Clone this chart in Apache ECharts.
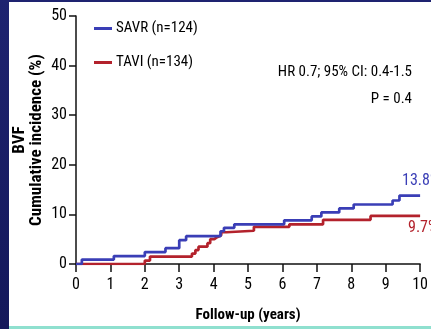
<!DOCTYPE html>
<html><head><meta charset="utf-8">
<script src="https://cdn.jsdelivr.net/npm/echarts@6/dist/echarts.min.js"></script>
<style>html,body{margin:0;padding:0;background:#fff}#c{width:431px;height:329px}</style>
</head><body><div id="c"></div>
<script>
const xTicks = [0,1,2,3,4,5,6,7,8,9,10];
const yTicks = [0,10,20,30,40,50];
const savrName = 'SAVR (n=124)';
const taviName = 'TAVI (n=134)';
const savrTimes  = [0, 0.17, 1.1, 2.0, 2.6, 3.0, 3.2, 4.2, 4.3, 4.6, 6.05, 6.85, 7.13, 7.65, 8.07, 9.2, 9.4, 10];
const savrValues = [0, 0.9, 1.6, 2.4, 3.2, 4.8, 5.6, 6.6, 7.3, 8.0, 8.8, 9.6, 10.4, 11.2, 12.0, 12.8, 13.8, 13.8];
const taviTimes  = [0, 2.0, 2.15, 3.37, 3.47, 3.56, 3.82, 3.9, 4.02, 4.1, 4.22, 4.37, 5.17, 6.2, 7.18, 8.56, 10];
const taviValues = [0, 0.7, 1.5, 2.1, 2.8, 3.5, 4.2, 5.0, 5.4, 5.8, 6.4, 6.7, 7.5, 8.0, 8.9, 9.7, 9.7];
const savrEnd = '13.8%';
const taviEnd = '9.7%';
const statLine1 = 'HR 0.7; 95% CI: 0.4-1.5';
const statLine2 = 'P = 0.4';

const FONT = "'Liberation Sans Narrow', 'Roboto Condensed', 'Noto Sans', sans-serif";
const BLUE = '#3a3eb6';
const RED = '#b3222c';
const zip = (a, b) => a.map((v, i) => [v, b[i]]);

const chart = echarts.init(document.getElementById('c'), null, {renderer: 'canvas'});
chart.setOption({
  animation: false,
  backgroundColor: '#ffffff',
  grid: {left: 76, right: 7, top: 16, bottom: 65, containLabel: false},
  legend: {
    orient: 'vertical', left: 89, top: 16, itemGap: 19,
    itemWidth: 18, itemHeight: 3, icon: 'rect',
    textStyle: {fontFamily: FONT, fontSize: 15, color: '#000', padding: [0,0,0,-1]},
    data: [{name: savrName}, {name: taviName}]
  },
  xAxis: {
    type: 'value', min: 0, max: 10, interval: 1,
    name: 'Follow-up (years)', nameLocation: 'middle', nameGap: 44, nameMoveOverlap: false,
    nameTextStyle: {fontFamily: FONT, fontSize: 15, fontWeight: 'bold', color: '#000'},
    axisLine: {lineStyle: {color: '#111', width: 1.5}},
    axisTick: {show: true, inside: false, length: 8, lineStyle: {color: '#111', width: 1.5}},
    axisLabel: {fontFamily: FONT, fontSize: 16, color: '#000', margin: 13,
      formatter: v => xTicks.includes(v) ? String(v) : ''},
    splitLine: {show: false}
  },
  yAxis: {
    type: 'value', min: 0, max: 50, interval: 10,
    name: 'BVF\nCumulative incidence (%)', nameLocation: 'middle', nameGap: 48, nameRotate: 90,
    nameMoveOverlap: false,
    nameTextStyle: {fontFamily: FONT, fontSize: 17, fontWeight: 'bold', color: '#000', lineHeight: 17,
      verticalAlign: 'middle'},
    axisLine: {show: true, lineStyle: {color: '#111', width: 1.5}},
    axisTick: {show: true, inside: false, length: 7, lineStyle: {color: '#111', width: 1.5}},
    axisLabel: {fontFamily: FONT, fontSize: 16, color: '#000', margin: 9,
      formatter: v => yTicks.includes(v) ? String(v) : ''},
    splitLine: {show: false}
  },
  series: [
    {name: savrName, type: 'line', step: 'end', symbol: 'none', color: BLUE,
     lineStyle: {width: 2.7, color: BLUE}, data: zip(savrTimes, savrValues), z: 3},
    {name: taviName, type: 'line', step: 'end', symbol: 'none', color: RED,
     lineStyle: {width: 2.7, color: RED}, data: zip(taviTimes, taviValues), z: 2}
  ],
  graphic: [
    {type: 'rect', shape: {x: 0, y: 0, width: 9, height: 329}, style: {fill: new echarts.graphic.LinearGradient(0,0,0,1,[{offset:0,color:'#1e2370'},{offset:1,color:'#14185a'}])}, z: 10},
    {type: 'rect', shape: {x: 0, y: 0, width: 431, height: 2}, style: {fill: '#1e2370'}, z: 10},
    {type: 'rect', shape: {x: 9, y: 326, width: 422, height: 3}, style: {fill: '#8fe0cf'}, z: 10},
    {type: 'text', right: 19, top: 65, style: {text: statLine1, font: '15px ' + FONT, fill: '#000'}},
    {type: 'text', right: 19, top: 92, style: {text: statLine2, font: '15px ' + FONT, fill: '#000'}},
    {type: 'text', left: 402, top: 173, style: {text: savrEnd, font: '16px ' + FONT, fill: BLUE}},
    {type: 'text', left: 408, top: 220, style: {text: taviEnd, font: '16px ' + FONT, fill: RED}}
  ]
});
</script></body></html>
